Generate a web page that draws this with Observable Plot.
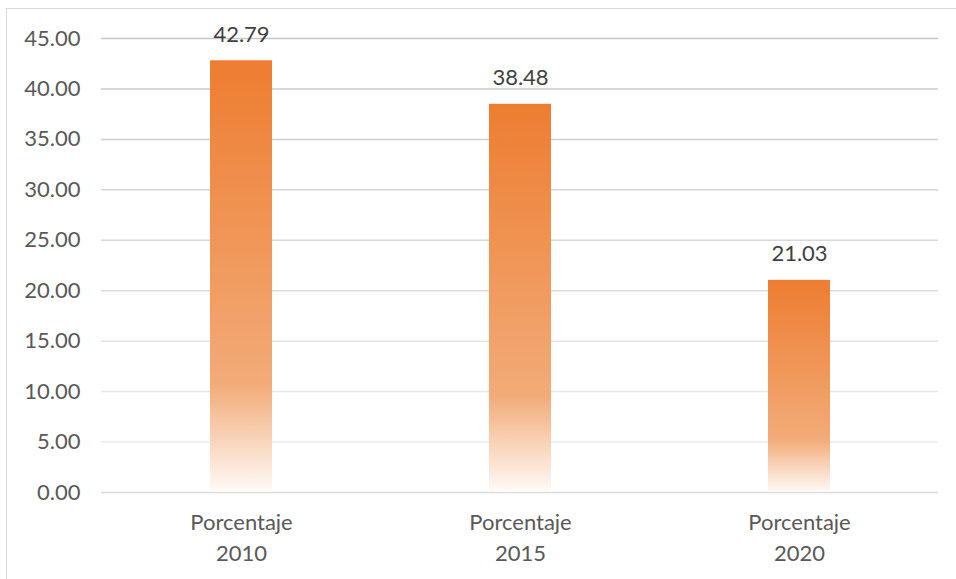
<!DOCTYPE html>
<html>
<head>
<meta charset="utf-8">
<script src="https://cdn.jsdelivr.net/npm/d3@7"></script>
<script src="https://cdn.jsdelivr.net/npm/@observablehq/plot@0.6"></script>
<style>
  html, body { margin: 0; padding: 0; background: #fff; }
  #wrap { position: relative; width: 956px; height: 579px; overflow: hidden; }
  #frame { position: absolute; left: 6px; top: 8px; right: -10px; bottom: -10px;
           border-top: 1.5px solid #d9d9d9; border-left: 1.5px solid #d9d9d9; }
  #chart { position: absolute; left: 0; top: 0; }
  svg text { font-family: Lato, "Open Sans", sans-serif; }
</style>
</head>
<body>
<div id="wrap"><div id="frame"></div><div id="chart"></div></div>
<script>
const years = ["2010", "2015", "2020"];
const labelPrefix = "Porcentaje";
const values = [42.79, 38.48, 21.03];
const yTicks = [0, 5, 10, 15, 20, 25, 30, 35, 40, 45];

const categories = years.map(y => labelPrefix + "\n" + y);
const data = categories.map((c, i) => ({cat: c, value: values[i]}));
const gridTicks = yTicks.filter(t => t > 0);

const plot = Plot.plot({
  width: 956,
  height: 579,
  marginLeft: 101,
  marginRight: 18,
  marginTop: 38,
  marginBottom: 87,
  style: {fontFamily: "Lato, sans-serif", fontSize: "22px", color: "#595959", background: "transparent"},
  x: {domain: categories, paddingInner: 0.778, paddingOuter: 0.389, label: null},
  y: {domain: [0, 45], label: null},
  color: {type: "linear", domain: [0, 45], range: ["#f2f2f2", "#c6c6c6"]},
  marks: [
    Plot.ruleY(gridTicks, {y: d => d, stroke: d => d, strokeWidth: 1.5}),
    Plot.ruleY([0], {stroke: "#d9d9d9", strokeWidth: 1.5}),
    Plot.barY(data, {x: "cat", y: "value", fill: "url(#barGrad)"}),
    Plot.text(data, {x: "cat", y: "value", text: d => d.value.toFixed(2), lineAnchor: "bottom", dy: -19, fill: "#404040", fontSize: 22}),
    Plot.axisY(yTicks, {tickSize: 0, tickPadding: 21, tickFormat: d => d.toFixed(2), fill: "#595959", fontSize: 22}),
    Plot.axisX({tickSize: 0, tickPadding: 15, lineHeight: 1.41, fill: "#595959", fontSize: 22})
  ]
});

const svg = d3.select(plot);
const defs = svg.insert("defs", ":first-child");
const g = defs.append("linearGradient").attr("id", "barGrad").attr("x1", 0).attr("y1", 0).attr("x2", 0).attr("y2", 1);
g.append("stop").attr("offset", "0%").attr("stop-color", "#ED7D31");
g.append("stop").attr("offset", "75%").attr("stop-color", "#F2AB78");
g.append("stop").attr("offset", "100%").attr("stop-color", "#FFFAF7");

document.getElementById("chart").appendChild(plot);
</script>
</body>
</html>
